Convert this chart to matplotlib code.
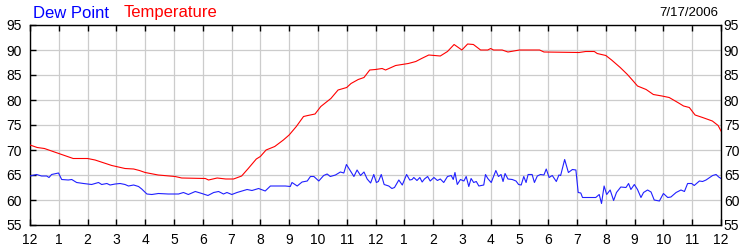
import matplotlib
matplotlib.use("Agg")
import matplotlib.pyplot as plt

# ---- data ----
temp_hours = [0, 0.25, 0.5, 0.75, 1.0, 1.5, 2.0, 2.26, 2.84, 3.3, 3.6, 3.8, 4.0, 4.45, 5.04, 5.27,
              6.09, 6.2, 6.5, 6.8, 7.07, 7.35, 7.58, 7.86, 8.0, 8.2, 8.5, 8.8, 9.0, 9.25, 9.5,
              9.65, 9.9, 10.1, 10.45, 10.7, 11.0, 11.15, 11.4, 11.6, 11.8, 12.0, 12.23, 12.35,
              12.7, 13.14, 13.4, 13.6, 13.85, 14.25, 14.5, 14.73, 15.0, 15.2, 15.4, 15.65, 15.9,
              16.0, 16.1, 16.4, 16.6, 17.0, 17.7, 17.85, 19.07, 19.3, 19.6, 19.7, 20.0, 20.2,
              20.5, 20.75, 20.95, 21.1, 21.4, 21.65, 21.95, 22.2, 22.5, 22.7, 22.9, 23.1, 23.36,
              23.7, 23.9, 24.0]
temp_values = [71.0, 70.5, 70.3, 69.8, 69.3, 68.3, 68.3, 68.0, 66.9, 66.3, 66.2, 65.9, 65.5, 65.0,
               64.7, 64.4, 64.3, 64.0, 64.4, 64.2, 64.2, 64.8, 66.3, 68.2, 68.7, 70.0, 70.7, 72.0,
               73.0, 74.7, 76.7, 76.9, 77.2, 78.7, 80.3, 82.0, 82.5, 83.3, 84.1, 84.5, 86.0, 86.1,
               86.3, 86.0, 86.9, 87.3, 87.7, 88.3, 89.0, 88.8, 89.7, 91.1, 90.0, 91.2, 91.1, 90.0,
               90.0, 90.3, 90.0, 90.0, 89.6, 90.0, 90.0, 89.6, 89.5, 89.7, 89.7, 89.3, 88.9, 88.0,
               86.5, 85.1, 83.8, 82.8, 82.1, 81.1, 80.8, 80.5, 79.5, 78.8, 78.5, 77.0, 76.5, 75.8,
               74.9, 73.8]

dew_hours = [0, 0.23, 0.4, 0.58, 0.66, 0.75, 0.99, 1.1, 1.33, 1.45, 1.62, 1.86, 2.14, 2.26, 2.38,
             2.49, 2.67, 2.78, 2.96, 3.13, 3.3, 3.42, 3.6, 3.77, 3.88, 4.06, 4.23, 4.46, 4.8, 5.16,
             5.33, 5.5, 5.74, 5.97, 6.18, 6.38, 6.55, 6.72, 6.84, 7.01, 7.19, 7.54, 7.71, 7.94,
             8.17, 8.35, 8.87, 9.04, 9.1, 9.28, 9.45, 9.63, 9.74, 9.86, 10.03, 10.2, 10.32, 10.43,
             10.61, 10.78, 10.9, 10.99, 11.13, 11.25, 11.36, 11.48, 11.6, 11.71, 11.83, 11.94,
             12.03, 12.1, 12.2, 12.3, 12.46, 12.57, 12.66, 12.81, 12.93, 13.08, 13.19, 13.27,
             13.33, 13.44, 13.54, 13.62, 13.7, 13.81, 13.9, 14.03, 14.15, 14.25, 14.37, 14.5,
             14.63, 14.7, 14.76, 14.84, 14.95, 15.07, 15.15, 15.24, 15.32, 15.41, 15.5, 15.59,
             15.76, 15.82, 15.9, 16.02, 16.1, 16.18, 16.27, 16.36, 16.43, 16.5, 16.6, 16.75,
             16.88, 16.97, 17.06, 17.15, 17.23, 17.3, 17.44, 17.52, 17.62, 17.73, 17.85, 17.93,
             18.03, 18.14, 18.28, 18.37, 18.43, 18.57, 18.7, 18.84, 18.96, 19.04, 19.13, 19.19,
             19.65, 19.77, 19.85, 19.94, 20.03, 20.15, 20.27, 20.37, 20.52, 20.7, 20.79, 20.87,
             20.99, 21.1, 21.22, 21.31, 21.45, 21.57, 21.68, 21.86, 22.0, 22.15, 22.26, 22.44,
             22.61, 22.73, 22.84, 22.98, 23.07, 23.25, 23.36, 23.48, 23.71, 23.83, 23.92, 24.0]
dew_values = [64.8, 65.1, 64.8, 64.8, 64.5, 65.1, 65.4, 64.1, 64.0, 64.1, 63.5, 63.3, 63.1, 63.3,
              63.5, 63.1, 63.3, 63.0, 63.2, 63.3, 63.1, 62.8, 63.0, 62.7, 62.2, 61.2, 61.1, 61.3,
              61.2, 61.2, 61.5, 61.1, 61.7, 61.3, 60.9, 61.5, 61.7, 61.2, 61.5, 61.1, 61.5, 62.1,
              61.9, 62.3, 61.8, 62.8, 62.8, 62.7, 63.5, 62.8, 63.6, 63.8, 64.7, 64.7, 63.8, 64.9,
              65.2, 64.7, 65.0, 65.6, 65.4, 67.1, 65.8, 64.7, 66.0, 64.9, 65.6, 64.2, 63.4, 65.1,
              63.5, 63.7, 65.1, 63.1, 62.8, 62.3, 62.5, 64.0, 63.0, 65.1, 64.0, 64.1, 64.5, 63.9,
              64.5, 63.6, 64.2, 64.7, 63.8, 64.5, 63.9, 64.2, 63.5, 64.7, 64.9, 64.1, 65.5, 63.1,
              64.1, 63.8, 64.7, 62.7, 64.3, 63.5, 63.7, 62.8, 63.0, 65.1, 64.3, 63.5, 64.7, 65.9,
              64.7, 65.1, 63.7, 65.3, 64.2, 64.1, 63.8, 63.1, 63.0, 64.7, 63.5, 65.1, 65.1, 63.5,
              64.8, 65.1, 65.0, 66.2, 64.5, 64.9, 63.7, 65.0, 64.9, 68.1, 65.5, 66.1, 66.0, 61.5,
              61.4, 60.5, 60.5, 61.1, 59.3, 62.8, 61.1, 62.0, 59.9, 61.5, 62.6, 62.5, 63.3, 62.1,
              63.1, 62.1, 60.5, 61.5, 62.0, 61.6, 60.0, 59.8, 61.3, 60.5, 60.6, 61.5, 62.0, 61.7,
              63.3, 63.3, 62.9, 63.8, 63.7, 64.0, 64.9, 65.1, 64.6, 64.3]

hour_labels = ["12", "1", "2", "3", "4", "5", "6", "7", "8", "9", "10", "11",
               "12", "1", "2", "3", "4", "5", "6", "7", "8", "9", "10", "11", "12"]
y_ticks = [55, 60, 65, 70, 75, 80, 85, 90, 95]
date_text = "7/17/2006"

# ---- figure ----
plt.rcParams['font.family'] = ['Liberation Sans', 'DejaVu Sans']
fig = plt.figure(figsize=(7.5, 2.5), dpi=100)
fig.patch.set_facecolor("white")
ax = fig.add_axes([30 / 750, 25 / 250, 691 / 750, 200 / 250])

ax.plot(temp_hours, temp_values, color="#ff0000", lw=0.8, zorder=3)
ax.plot(dew_hours, dew_values, color="#2020ff", lw=0.8, zorder=3)

ax.set_xlim(0, 24)
ax.set_ylim(55, 95)
ax.set_xticks(range(25))
ax.set_xticklabels(hour_labels)
ax.set_yticks(y_ticks)
ax.grid(True, color="#cccccc", lw=0.9, zorder=0)
ax.set_axisbelow(True)

for s in ax.spines.values():
    s.set_color("black")
    s.set_linewidth(1.0)

ax.tick_params(axis="x", direction="in", length=4, width=1, top=True, bottom=True,
               labelsize=10, pad=6, colors="black")
ax.tick_params(axis="y", direction="in", length=4, width=1, left=True, right=True,
               labelleft=True, labelright=False, labelsize=10, pad=6, colors="black")

# right-hand labels with a tighter pad
ax_r = ax.twinx()
ax_r.set_ylim(ax.get_ylim())
ax_r.set_yticks(y_ticks)
ax_r.tick_params(axis="y", direction="in", length=0, labelsize=10, pad=2, colors="black")
for s in ax_r.spines.values():
    s.set_visible(False)

fig.text(33 / 750, 1 - 13 / 250, "Dew Point", color="#0000ff", fontsize=12,
         ha="left", va="center")
fig.text(124 / 750, 1 - 13 / 250, "Temperature", color="#ff0000", fontsize=12,
         ha="left", va="center")
fig.text(718 / 750, 1 - 13 / 250, date_text, color="black", fontsize=9.5,
         ha="right", va="center")

fig.savefig("out.png", dpi=100, facecolor="white")
